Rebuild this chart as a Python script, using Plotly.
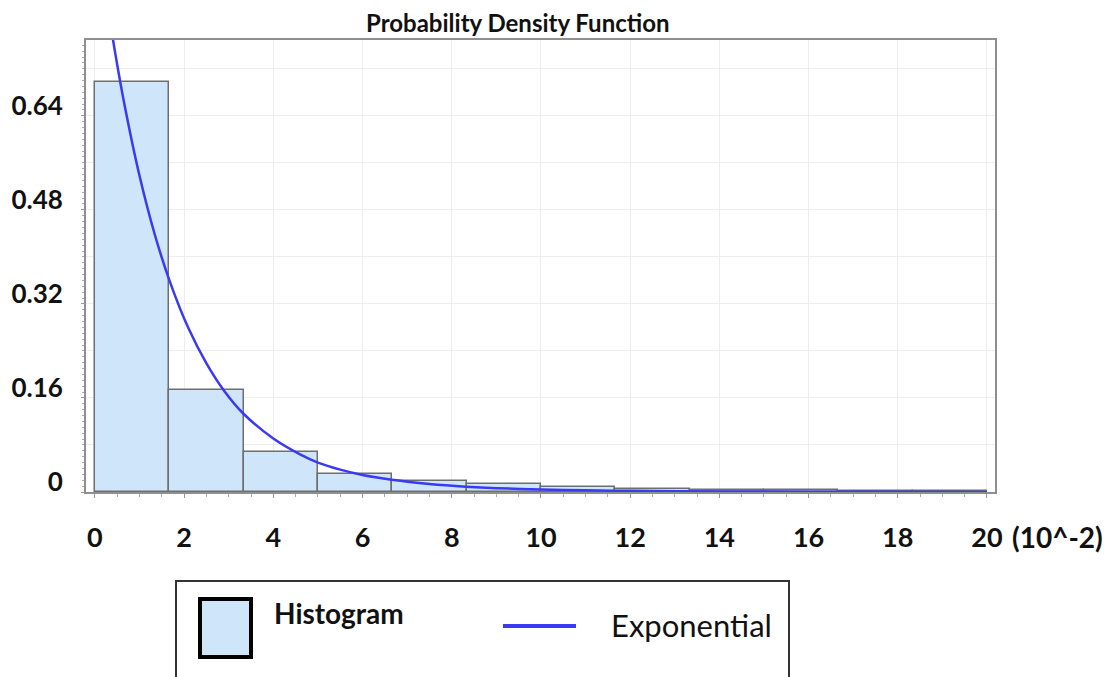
import numpy as np
import plotly.graph_objects as go

# Histogram bins (x in units of 10^-2) and bar heights (density)
bin_edges = [0.0, 1.667, 3.333, 5.0, 6.667, 8.333, 10.0, 11.667, 13.333, 15.0, 16.667, 18.333, 20.0]
bar_heights = [0.698, 0.174, 0.068, 0.031, 0.019, 0.013, 0.008, 0.005, 0.003, 0.004, 0.001, 0.001]

# Fitted exponential density, sampled along x
curve_x = [0.30, 0.47, 0.65, 1.0, 1.35, 1.68, 2.1, 2.5, 2.9, 3.32, 4.0, 4.6, 5.0, 5.5, 6.0, 6.66, 7.5, 8.32, 9.0, 10.0, 11.0, 12.0, 14.0, 16.0, 18.0, 20.0]
curve_y = [0.82, 0.74, 0.664, 0.538, 0.436, 0.358, 0.278, 0.219, 0.172, 0.134, 0.091, 0.064, 0.050, 0.038, 0.029, 0.021, 0.0138, 0.0091, 0.0065, 0.0043, 0.0029, 0.0020, 0.0010, 0.0005, 0.0003, 0.0002]

x_ticks = [0, 2, 4, 6, 8, 10, 12, 14, 16, 18, 20]
y_grid = [0, 0.08, 0.16, 0.24, 0.32, 0.40, 0.48, 0.56, 0.64, 0.72]
y_labels = ["0", "", "0.16", "", "0.32", "", "0.48", "", "0.64", ""]

TITLE = "Probability Density Function"
X_UNIT = "(10^-2)"

BAR_FILL = "#cfe5fa"
BAR_EDGE = "#6e6e6e"
CURVE = "#3a3af2"
FONT = "Lato"
TEXT = "#111111"

W, H = 1120, 677
L, R, T, B = 86, 125, 40, 185
PW, PH = W - L - R, H - T - B


def px(xp):
    return (xp - L) / PW


def py(yp):
    return (H - B - yp) / PH


centers = [(a + b) / 2 for a, b in zip(bin_edges[:-1], bin_edges[1:])]
widths = [b - a for a, b in zip(bin_edges[:-1], bin_edges[1:])]

fig = go.Figure()
fig.add_trace(go.Bar(
    x=centers, y=bar_heights, width=widths,
    marker=dict(color=BAR_FILL, line=dict(color=BAR_EDGE, width=1.5)),
    name="Histogram", showlegend=False,
))
fig.add_trace(go.Scatter(
    x=curve_x, y=curve_y, mode="lines",
    line=dict(color=CURVE, width=2.5, shape="spline", smoothing=0.8),
    name="Exponential", showlegend=False,
))

fig.update_layout(
    width=W, height=H,
    margin=dict(l=L, r=R, t=T, b=B, pad=0, autoexpand=False),
    paper_bgcolor="white", plot_bgcolor="white",
    bargap=0,
    font=dict(family=FONT, color=TEXT),
)

fig.update_xaxes(
    automargin=False,
    range=[-0.2, 20.18],
    tickmode="array", tickvals=x_ticks, ticktext=[str(v) for v in x_ticks],
    showgrid=True, gridcolor="#eeeeee", gridwidth=1,
    ticks="outside", ticklen=4, tickcolor="#999999",
    minor=dict(tickvals=list(np.arange(0, 20.01, 0.5)), ticks="outside", ticklen=3,
               tickcolor="#aaaaaa", showgrid=False),
    tickfont=dict(family=FONT, size=27, weight="bold", color=TEXT),
    ticklabelstandoff=17,
    showline=True, linecolor="#8f8f8f", linewidth=2, mirror=True,
    zeroline=False,
)
fig.update_yaxes(
    automargin=False,
    range=[0, 0.769],
    tickmode="array", tickvals=y_grid, ticktext=y_labels,
    showgrid=True, gridcolor="#eeeeee", gridwidth=1,
    ticks="outside", ticklen=3, tickcolor="#999999",
    minor=dict(tickvals=list(np.round(np.arange(0, 0.77, 0.01), 2)), ticks="outside", ticklen=2,
               tickcolor="#aaaaaa", showgrid=False),
    tickfont=dict(family=FONT, size=26, weight="bold", color=TEXT),
    ticklabelstandoff=13, ticklabelshift=-10,
    showline=True, linecolor="#8f8f8f", linewidth=2, mirror=True,
    zeroline=False,
)

annotations = [
    dict(text=TITLE, x=px(518), y=py(22), xref="paper", yref="paper",
         xanchor="center", yanchor="middle", showarrow=False,
         font=dict(family=FONT, size=24, weight="bold", color=TEXT)),
    dict(text=X_UNIT, x=px(1010), y=py(537), xref="paper", yref="paper",
         xanchor="left", yanchor="middle", showarrow=False,
         font=dict(family=FONT, size=28, weight="bold", color=TEXT)),
    dict(text="Histogram", x=px(272), y=py(613), xref="paper", yref="paper",
         xanchor="left", yanchor="middle", showarrow=False,
         font=dict(family=FONT, size=28, weight="bold", color=TEXT)),
    dict(text="Exponential", x=px(609), y=py(625), xref="paper", yref="paper",
         xanchor="left", yanchor="middle", showarrow=False,
         font=dict(family=FONT, size=31, color=TEXT)),
]

shapes = [
    # legend frame
    dict(type="rect", xref="paper", yref="paper",
         x0=px(176), x1=px(789), y0=py(700), y1=py(581),
         line=dict(color="#333333", width=2), fillcolor="rgba(0,0,0,0)"),
    # histogram swatch
    dict(type="rect", xref="paper", yref="paper",
         x0=px(200), x1=px(251), y0=py(657), y1=py(599),
         line=dict(color="#000000", width=4), fillcolor=BAR_FILL),
    # exponential swatch
    dict(type="line", xref="paper", yref="paper",
         x0=px(503), x1=px(576), y0=py(626), y1=py(626),
         line=dict(color=CURVE, width=4)),
]

fig.update_layout(annotations=annotations, shapes=shapes)

fig.write_html("out.html")
